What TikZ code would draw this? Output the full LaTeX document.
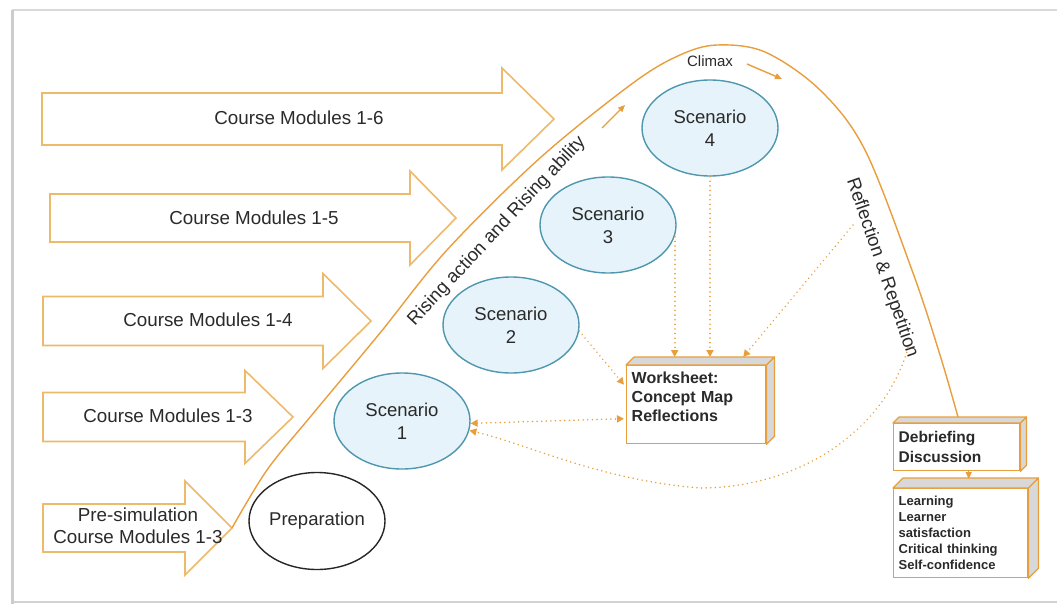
\documentclass[tikz,border=0pt]{standalone}
\usepackage{fontspec}
\setmainfont{Liberation Sans}
\usetikzlibrary{shapes.geometric,arrows.meta}
\definecolor{org}{HTML}{E89E3C}
\definecolor{arrowline}{HTML}{EDBA6C}
\definecolor{ellfill}{HTML}{E6F3FA}
\definecolor{elldraw}{HTML}{4E97AE}
\definecolor{boxside}{HTML}{D8D8D8}
\definecolor{txt}{HTML}{2A2A2A}
\newcommand\blockarrow[6]{%
  \draw[bigarrow] (#1,#4-#5) -- (#2,#4-#5) -- (#2,#4-#6) -- (#3,#4) -- (#2,#4+#6) -- (#2,#4+#5) -- (#1,#4+#5) -- cycle;}
\newcommand\boxfaces[2]{%
  \filldraw[face] (#1.north west) -- ([shift={(#2,-#2)}]#1.north west) -- ([shift={(#2,-#2)}]#1.north east) -- (#1.north east) -- cycle;
  \filldraw[face] (#1.north east) -- ([shift={(#2,-#2)}]#1.north east) -- ([shift={(#2,-#2)}]#1.south east) -- (#1.south east) -- cycle;}
\tikzset{
  bigarrow/.style={draw=arrowline, line width=1.6, fill=white, line join=miter},
  armtext/.style={font=\fontsize{18.8}{22}\selectfont, text=txt, align=center, inner sep=0},
  scen/.style={ellipse, draw=elldraw, fill=ellfill, line width=1.4, minimum width=136, minimum height=96, align=center, font=\fontsize{18.5}{23}\selectfont, text=txt, inner sep=0},
  prep/.style={ellipse, draw=black!85, fill=white, line width=1.4, minimum width=136, minimum height=97, font=\fontsize{18.5}{23}\selectfont, text=txt, inner sep=0},
  box3d/.style={draw=org, fill=white, line width=1.4, align=left, anchor=north west, inner xsep=5, inner ysep=2, text=txt},
  face/.style={draw=org, fill=boxside, line width=1.2, line join=round},
  dotarr/.style={draw=org, line width=1.7, dash pattern=on 0.01pt off 4.6pt, line cap=round, -{Triangle[width=7,length=7]}},
  solidarr/.style={draw=org, line width=1.4, -{Triangle[width=6,length=7]}},
  curveline/.style={draw=org, line width=1.4},
  sidetext/.style={font=\fontsize{18.5}{22}\selectfont, text=txt, inner sep=0},
}
\begin{document}
\begin{tikzpicture}[x=1pt,y=-1pt]
\useasboundingbox (0,0) rectangle (1057,607);
% frame
\draw[gray!30, line width=1.2] (12,10) -- (1057,10);
\draw[gray!35, line width=2] (12,602) -- (1057,602);
\draw[gray!40, line width=3] (12,604) -- (12,10);

% block arrows
\blockarrow{42}{502}{554}{119}{26}{51}
\blockarrow{50}{410}{456}{218}{24}{47}
\blockarrow{43}{323}{371}{321}{24.5}{47.5}
\blockarrow{43}{245}{293}{417}{24.5}{46.5}
\blockarrow{43}{185}{232}{528}{24}{47}
\node[armtext] (t6) at (299,118) {Course Modules 1-6};
\node[armtext] (t5) at (254,218) {Course Modules 1-5};
\node[armtext] (t4) at (208,320) {Course Modules 1-4};
\node[armtext] (t3) at (168,416) {Course Modules 1-3};
\node[armtext, font=\fontsize{18.8}{22}\selectfont] (t0) at (138,526) {Pre-simulation\\Course Modules 1-3};

% main story curve
\draw[curveline] plot[smooth, tension=0.55] coordinates {(232,528) (267,470) (311,416) (380,333) (447,250) (540,158) (633,83) (680,55) (717,45) (765,52) (820,90) (865,150) (913,273) (940,355) (958,417)};

% ellipses
\node[prep] (prep) at (317,521) {Preparation};
\node[scen] (s1) at (402,421) {Scenario\\1};
\node[scen] (s2) at (511,325) {Scenario\\2};
\node[scen] (s3) at (608,225) {Scenario\\3};
\node[scen] (s4) at (710,128) {Scenario\\4};

% labels on the curve
\node[sidetext, rotate=47] (rise) at (497,231) {Rising action and Rising ability};
\node[sidetext, rotate=-71] (refl) at (882,268) {Reflection \& Repetition};
\node[font=\fontsize{15}{18}\selectfont, text=txt, inner sep=0] (climax) at (710,61) {Climax};
\coordinate (ra1) at (602,128); \coordinate (ra2) at (625,105);
\coordinate (ca1) at (747,64); \coordinate (ca2) at (782,79);
\draw[solidarr] (ra1) -- (ra2);
\draw[solidarr] (ca1) -- (ca2);

% boxes
\node[box3d, minimum width=139, minimum height=78, text width=129, font=\bfseries\fontsize{16}{19}\selectfont] (ws) at (626,365) {Worksheet:\\Concept Map\\Reflections\\[-2pt]\mbox{}};
\boxfaces{ws}{8}
\node[box3d, minimum width=126, minimum height=47, text width=116, font=\bfseries\fontsize{15.5}{20}\selectfont] (deb) at (893,423) {Debriefing\\Discussion};
\boxfaces{deb}{6}
\node[box3d, minimum width=134, minimum height=89, text width=124, font=\bfseries\fontsize{13}{16}\selectfont] (out) at (893,488) {Learning\\Learner\\satisfaction\\Critical thinking\\Self-confidence};
\boxfaces{out}{10}

% connectors
\coordinate (wstop) at ([yshift=8]ws.north);
\coordinate (rfstart) at (853,225);
\coordinate (rpstart) at (908,348);
\draw[dotarr] (s3.-10) -- (s3.-10 |- wstop);
\draw[dotarr] (s4.south) -- (s4.south |- wstop);
\draw[dotarr] (rfstart) -- ([xshift=47,yshift=8]ws.north);
\draw[dotarr] (s2.-5) -- ([xshift=-2,yshift=20]ws.west);
\draw[dotarr, {Triangle[width=7,length=7]}-{Triangle[width=7,length=7]}] (s1.-2) -- ([xshift=-2,yshift=-14]ws.west);
\draw[dotarr] (rpstart) .. controls (885,430) and (800,488) .. (700,488) .. controls (600,480) and (530,445) .. (s1.-8);
\draw[solidarr] ([xshift=12]deb.south) -- ([xshift=8,yshift=9]out.north);
\end{tikzpicture}
\end{document}
